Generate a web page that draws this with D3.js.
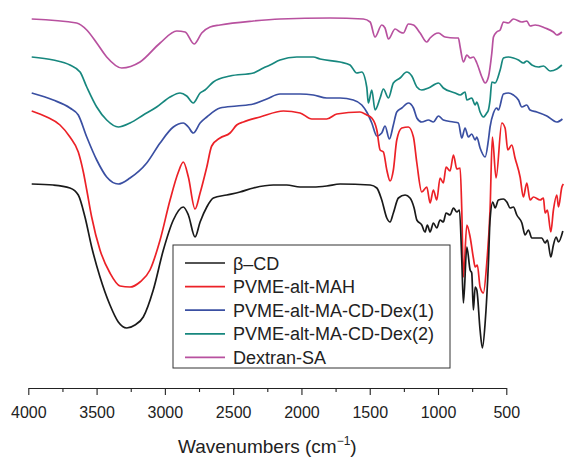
<!DOCTYPE html>
<html>
<head>
<meta charset="utf-8">
<script src="https://cdn.jsdelivr.net/npm/d3@7"></script>
<style>
  html, body { margin: 0; padding: 0; background: #fff; }
  svg { display: block; font-family: "Liberation Sans", Arial, Helvetica, sans-serif; }
</style>
</head>
<body>
<svg id="chart" width="581" height="458"></svg>
<script>
// ---- Data (wavenumber on the printed axis, transmittance in arbitrary units, offset stacked) ----
const seriesNames = ["β–CD", "PVME-alt-MAH", "PVME-alt-MA-CD-Dex(1)", "PVME-alt-MA-CD-Dex(2)", "Dextran-SA"];
const seriesColors = ["#1a1a1a", "#ec2127", "#3a4fa2", "#17877e", "#b8519f"];

const betaCD = [
  [3975,204],[3817,203],[3695,200],[3634,193],[3585,171],[3536,141],[3475,111],[3402,83],[3341,66],
  [3279,60],[3219,63],[3158,71],[3085,98],[3011,138],[2938,168],[2865,181],[2828,173],[2779,151],
  [2742,166],[2693,181],[2645,190],[2547,193],[2450,196],[2352,200],[2206,203],[2108,203],[2010,201],
  [1913,201],[1815,202],[1717,204],[1497,203],[1448,200],[1412,188],[1375,170],[1351,166],[1327,175],
  [1290,190],[1241,193],[1205,190],[1175,180],[1155,168],[1119,163],[1095,156],[1078,163],[1058,156],
  [1034,165],[1009,160],[985,168],[961,166],[941,175],[912,173],[887,180],[862,176],[843,178],
  [826,128],[814,85],[789,141],[765,118],[753,115],[741,78],[728,101],[716,98],[692,58],[675,40],
  [655,65],[631,125],[619,168],[599,186],[582,180],[558,188],[521,189],[496,186],[472,180],[448,181],
  [423,173],[386,165],[362,153],[338,158],[313,150],[277,150],[240,150],[216,145],[199,148],[174,131],
  [155,143],[135,151],[118,146],[86,157]
];

const pvmeMAH = [
  [3975,277],[3865,271],[3768,263],[3695,251],[3634,236],[3597,216],[3572,198],[3536,171],[3475,138],
  [3402,115],[3328,102],[3255,101],[3182,106],[3109,118],[3035,148],[2962,188],[2901,216],[2865,226],
  [2828,211],[2779,179],[2742,195],[2693,221],[2657,242],[2596,250],[2523,255],[2474,263],[2425,266],
  [2303,271],[2132,277],[2010,275],[1924,269],[1815,269],[1741,274],[1571,276],[1522,273],[1485,270],
  [1448,258],[1424,238],[1400,236],[1375,218],[1351,207],[1327,218],[1302,248],[1265,260],[1217,261],
  [1180,251],[1155,225],[1119,196],[1082,201],[1058,185],[1034,198],[1009,188],[985,210],[961,205],
  [941,221],[912,217],[887,233],[862,219],[838,220],[826,178],[814,111],[789,163],[765,151],[741,130],
  [728,121],[712,123],[692,101],[668,95],[643,125],[619,178],[602,251],[575,210],[533,265],[509,260],
  [489,238],[460,243],[436,230],[399,211],[375,191],[350,205],[326,188],[301,191],[252,188],[228,190],
  [216,175],[199,178],[174,156],[155,178],[130,193],[118,181],[93,201],[82,204]
];

const cdDex1 = [
  [3975,295],[3817,288],[3695,280],[3634,273],[3572,251],[3499,228],[3426,211],[3341,204],[3255,210],
  [3133,225],[3035,245],[2938,261],[2865,265],[2828,261],[2792,255],[2742,265],[2693,271],[2596,280],
  [2474,282],[2352,284],[2254,289],[2157,294],[2010,294],[1913,293],[1815,290],[1717,290],[1620,288],
  [1558,283],[1522,276],[1485,265],[1448,252],[1412,255],[1388,262],[1356,249],[1327,263],[1302,276],
  [1265,280],[1217,285],[1180,280],[1155,270],[1119,266],[1070,268],[1034,266],[997,272],[961,268],
  [887,266],[851,265],[826,250],[802,260],[778,251],[753,254],[728,248],[716,251],[692,240],[655,231],
  [631,248],[619,261],[594,275],[570,280],[558,278],[521,294],[485,295],[448,293],[411,288],[386,281],
  [350,283],[326,278],[277,276],[203,272],[130,266],[89,269]
];

const cdDex2 = [
  [3975,331],[3817,328],[3695,323],[3621,316],[3572,301],[3499,281],[3426,268],[3341,261],[3255,265],
  [3158,273],[3060,281],[2962,291],[2889,295],[2840,292],[2792,285],[2742,295],[2706,298],[2645,306],
  [2523,312],[2352,315],[2279,320],[2230,323],[2157,328],[2034,331],[1913,331],[1864,329],[1717,326],
  [1644,323],[1595,315],[1558,316],[1522,301],[1510,285],[1485,298],[1461,278],[1424,290],[1400,299],
  [1363,290],[1327,305],[1278,310],[1229,316],[1192,312],[1155,301],[1119,298],[1070,300],[997,305],
  [961,300],[875,295],[838,293],[802,296],[789,288],[753,290],[728,283],[716,286],[692,276],[668,271],
  [643,275],[631,278],[619,288],[606,306],[582,305],[545,318],[521,330],[485,331],[448,330],[411,328],
  [375,325],[350,327],[313,323],[265,321],[228,322],[179,317],[130,319],[93,323]
];

const dextranSA = [
  [3975,369],[3646,365],[3572,358],[3499,345],[3426,331],[3316,320],[3182,326],[3035,345],[2913,357],
  [2852,356],[2786,344],[2730,355],[2669,361],[2596,363],[2352,367],[2157,369],[1790,370],[1547,369],
  [1497,366],[1461,351],[1412,363],[1388,360],[1363,349],[1314,359],[1278,356],[1254,355],[1217,364],
  [1180,363],[1131,355],[1082,346],[1058,350],[997,355],[948,351],[875,350],[851,350],[838,341],
  [814,326],[789,333],[765,330],[741,331],[716,325],[679,311],[655,305],[631,311],[606,335],[594,351],
  [570,356],[545,358],[521,366],[485,365],[448,369],[386,366],[350,367],[326,362],[289,363],[216,360],
  [155,356],[130,353],[93,356]
];

const majorTicks = [4000, 3500, 3000, 2500, 2000, 1500, 1000, 500];
const minorTicks = [3750, 3250, 2750, 2250, 1750, 1250, 750];

const allSeries = [betaCD, pvmeMAH, cdDex1, cdDex2, dextranSA];

// ---- Chart ----
const svg = d3.select("#chart");
const axisY = 388;
const x = d3.scaleLinear().domain([4000, 500]).range([28.3, 506.3]);
const y = d3.scaleLinear().domain([0, 380]).range([axisY, 8]);

const line = d3.line()
  .x(d => x(d[0]))
  .y(d => y(d[1]))
  .curve(d3.curveMonotoneX);

// Draw spectra from top (Dextran) to bottom (β-CD)
const order = [4, 3, 2, 1, 0];
svg.append("g").selectAll("path")
  .data(order)
  .join("path")
  .attr("d", i => line(allSeries[i]))
  .attr("fill", "none")
  .attr("stroke", i => seriesColors[i])
  .attr("stroke-width", 1.7)
  .attr("stroke-linejoin", "round");

// X axis
const gx = svg.append("g").attr("transform", `translate(0,${axisY})`);
gx.call(d3.axisBottom(x).tickValues(majorTicks).tickSize(7).tickSizeOuter(0).tickPadding(12)
  .tickFormat(d3.format("d")));
gx.select(".domain").attr("stroke", "#222").attr("stroke-width", 1.1);
gx.selectAll(".tick line").attr("stroke", "#222").attr("stroke-width", 1.1);
gx.selectAll(".tick text")
  .attr("font-size", 16)
  .attr("fill", "#222")
  .attr("font-family", "Liberation Sans, Arial, sans-serif");

const gMinor = svg.append("g").attr("transform", `translate(0,${axisY})`);
gMinor.call(d3.axisBottom(x).tickValues(minorTicks).tickSize(4).tickSizeOuter(0).tickFormat(""));
gMinor.select(".domain").remove();
gMinor.selectAll(".tick line").attr("stroke", "#222").attr("stroke-width", 1.1);

// Axis title
const title = svg.append("text")
  .attr("x", (x.range()[0] + x.range()[1]) / 2)
  .attr("y", 453)
  .attr("text-anchor", "middle")
  .attr("font-size", 19)
  .attr("fill", "#222");
title.append("tspan").text("Wavenumbers (cm");
title.append("tspan").text("−1").attr("font-size", 12).attr("dy", -8);
title.append("tspan").text(")").attr("dy", 8);

// Legend
const lg = svg.append("g");
lg.append("rect")
  .attr("x", 173).attr("y", 245).attr("width", 277).attr("height", 123)
  .attr("fill", "#fff").attr("stroke", "#333").attr("stroke-width", 1);
const rows = lg.selectAll("g.row").data(seriesNames).join("g")
  .attr("class", "row")
  .attr("transform", (d, i) => `translate(0,${263 + i * 23.6})`);
rows.append("line")
  .attr("x1", 185).attr("x2", 225).attr("y1", 0).attr("y2", 0)
  .attr("stroke", (d, i) => seriesColors[i]).attr("stroke-width", 1.7);
rows.append("text")
  .attr("x", 233).attr("y", 6.5)
  .attr("font-size", 18)
  .attr("fill", "#222")
  .text(d => d);
</script>
</body>
</html>
